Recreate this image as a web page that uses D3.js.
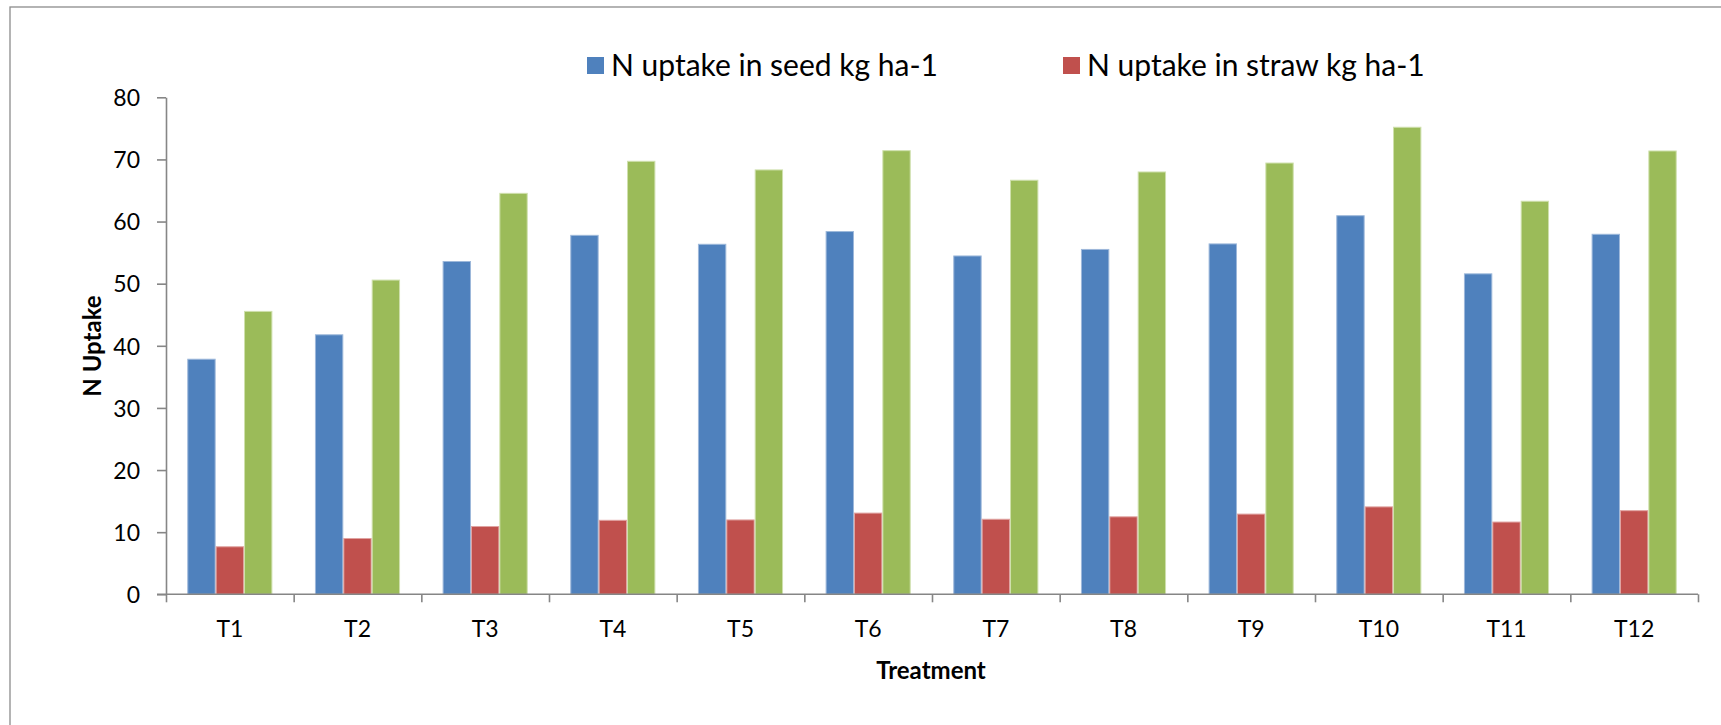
<!DOCTYPE html>
<html>
<head>
<meta charset="utf-8">
<script src="https://cdn.jsdelivr.net/npm/d3@7"></script>
<style>
  html, body { margin: 0; padding: 0; background: #fff; }
  svg { display: block; }
  text { font-family: Lato, "Open Sans", sans-serif; fill: #000; }
</style>
</head>
<body>
<svg id="chart" width="1721" height="725"></svg>
<script>
// Treatments on the category axis
const treatments = ["T1","T2","T3","T4","T5","T6","T7","T8","T9","T10","T11","T12"];

// N uptake (kg ha-1) per treatment
const seedUptake  = [37.84, 41.77, 53.57, 57.78, 56.34, 58.39, 54.46, 55.51, 56.40, 60.94, 51.58, 57.95];
const strawUptake = [7.65, 8.98, 10.91, 11.91, 11.97, 13.07, 12.08, 12.47, 12.91, 14.07, 11.63, 13.46];
const totalUptake = [45.54, 50.58, 64.54, 69.70, 68.31, 71.41, 66.65, 67.98, 69.42, 75.18, 63.27, 71.36];

const seriesNames = ["N uptake in seed kg ha-1", "N uptake in straw kg ha-1", "Total N uptake kg ha-1"];
const legendNames = ["N uptake in seed kg ha-1", "N uptake in straw kg ha-1"];
const seriesColors = ["#4F81BD", "#C0504D", "#9BBB59"];
const seriesEdges  = ["#9db8da", "#e0a3a1", "#cfe0ad"];

const yTicks = [0, 10, 20, 30, 40, 50, 60, 70, 80];

const seriesValues = [seedUptake, strawUptake, totalUptake];
const rows = treatments.map((t, i) => ({
  treatment: t,
  values: seriesNames.map((s, k) => ({ series: s, k, value: seriesValues[k][i] }))
}));

const svg = d3.select("#chart");
const plot = { left: 166, right: 1698, top: 97.3, bottom: 594.3 };

// outer chart frame
svg.append("rect")
  .attr("x", 10).attr("y", 7)
  .attr("width", 1740).attr("height", 760)
  .attr("fill", "none").attr("stroke", "#8c8c8c").attr("stroke-width", 1.3);

const x0 = d3.scaleBand().domain(treatments).range([plot.left, plot.right]).padding(0);
const bw = x0.bandwidth();
const gap = bw / 3;   // 150% gap width between clusters
const x1 = d3.scaleBand().domain(seriesNames).range([gap / 2, bw - gap / 2]).padding(0);
const y = d3.scaleLinear().domain([0, 80]).range([plot.bottom, plot.top]);

// bars
const groups = svg.append("g").selectAll("g")
  .data(rows).join("g")
  .attr("transform", d => `translate(${x0(d.treatment)},0)`);

groups.selectAll("rect")
  .data(d => d.values).join("rect")
  .attr("x", d => x1(d.series) + 0.5)
  .attr("y", d => y(d.value))
  .attr("width", x1.bandwidth() - 1)
  .attr("height", d => y(0) - y(d.value))
  .attr("fill", d => seriesColors[d.k])
  .attr("stroke", d => seriesEdges[d.k])
  .attr("stroke-width", 1);

// y axis
const yAxis = svg.append("g")
  .attr("transform", `translate(${plot.left},0)`)
  .call(d3.axisLeft(y).tickValues(yTicks).tickSize(9).tickPadding(17).tickSizeOuter(0));
yAxis.select(".domain").attr("stroke", "#868686").attr("stroke-width", 1.6);
yAxis.selectAll(".tick line").attr("stroke", "#868686").attr("stroke-width", 1.6);
yAxis.selectAll(".tick text").style("font-size", "23px").attr("dy", "0.36em");

// x axis: tick marks on category boundaries
const xIdx = d3.scaleLinear().domain([0, treatments.length]).range([plot.left, plot.right]);
const xTicksG = svg.append("g")
  .attr("transform", `translate(0,${plot.bottom})`)
  .call(d3.axisBottom(xIdx).tickValues(d3.range(0, treatments.length + 1)).tickSize(8).tickSizeOuter(0).tickFormat(""));
xTicksG.select(".domain").attr("stroke", "#868686").attr("stroke-width", 1.6)
  .attr("d", `M${plot.left - 9},0H${plot.right}`);
xTicksG.selectAll(".tick line").attr("stroke", "#868686").attr("stroke-width", 1.6);

// x axis: category labels at band centres
const xLab = svg.append("g")
  .attr("transform", `translate(0,${plot.bottom})`)
  .call(d3.axisBottom(x0).tickSize(0).tickPadding(0));
xLab.select(".domain").remove();
xLab.selectAll(".tick text").style("font-size", "23px").attr("y", 43).attr("dy", null);

// axis titles
svg.append("text")
  .attr("transform", `translate(101,346) rotate(-90)`)
  .attr("text-anchor", "middle")
  .style("font-size", "24px").style("font-weight", "bold")
  .text("N Uptake");

svg.append("text")
  .attr("x", 931).attr("y", 679)
  .attr("text-anchor", "middle")
  .style("font-size", "24px").style("font-weight", "bold")
  .text("Treatment");

// legend
const legendX = [587, 1063];
const legend = svg.append("g").selectAll("g")
  .data(legendNames).join("g")
  .attr("transform", (d, i) => `translate(${legendX[i]},0)`);
legend.append("rect")
  .attr("x", 0).attr("y", 57).attr("width", 17).attr("height", 17)
  .attr("fill", (d, i) => seriesColors[i]);
legend.append("text")
  .attr("x", 24).attr("y", 76)
  .style("font-size", "30px")
  .text(d => d);
</script>
</body>
</html>
